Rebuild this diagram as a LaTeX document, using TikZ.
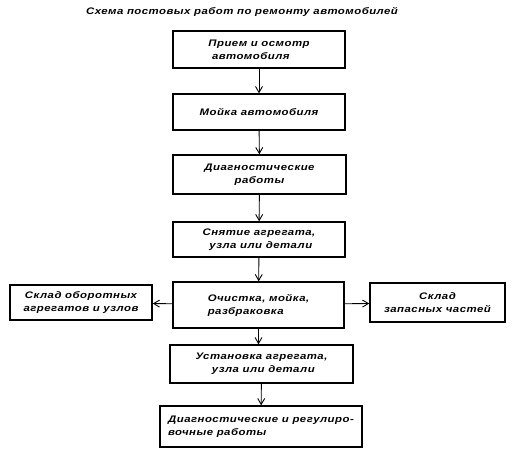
\documentclass[tikz,border=0pt]{standalone}
\usepackage{fontspec}
\setmainfont{Liberation Sans}[FakeStretch=1.2,LetterSpace=5]
\usepackage{tikz}
\usetikzlibrary{arrows.meta}

\begin{document}
\begin{tikzpicture}[x=1pt,y=-1pt,>={Straight Barb[length=6pt,width=7pt]},
  box/.style={draw,line width=1.4pt,inner sep=0pt,align=center,
    font=\bfseries\itshape\fontsize{9.5}{13}\selectfont},
  link/.style={->,line width=0.9pt}]
\useasboundingbox (0,0) rectangle (516,458);
\node[font=\bfseries\itshape\fontsize{9.5}{12}\selectfont] (title) at (242,12) {Схема постовых работ по ремонту автомобилей};
% main chain
\node[box,align=left,minimum width=172pt,minimum height=37pt] (priem) at (259,49.5) {Прием и осмотр\\ \ автомобиля};
\node[box,minimum width=172pt,minimum height=36pt] (mojka) at (259,112) {Мойка автомобиля};
\node[box,minimum width=173pt,minimum height=39pt] (diag) at (259.5,174.5) {Диагностические\\работы};
\node[box,minimum width=172pt,minimum height=35pt] (snyat) at (259,239.5) {Снятие агрегата,\\ \ узла или детали};
\node[box,align=left,minimum width=171pt,minimum height=46pt] (ochist) at (258.5,305) {Очистка, мойка,\\разбраковка};
\node[box,minimum width=183pt,minimum height=38pt] (ustan) at (261.5,364) {Установка агрегата,\\ \ узла или детали};
\node[box,align=left,minimum width=202pt,minimum height=41pt] (regul) at (261,426.5) {Диагностические и регулиро-\\вочные работы};
% side stores
\node[box,minimum width=142pt,minimum height=35pt] (oborot) at (81,302.5) {Склад оборотных\\агрегатов и узлов};
\node[box,minimum width=135pt,minimum height=39pt] (zapas) at (437.5,302.5) {Склад\\запасных частей};
\draw[link](priem)--(mojka);
\draw[link](mojka)--(diag);
\draw[link](diag)--(snyat);
\draw[link](snyat)--(ochist);
\draw[link](ochist.south)--(ochist.south|-ustan.north);
\draw[link](ustan)--(regul);
\draw[link](ochist)--(oborot);
\draw[link](ochist)--(zapas);
\end{tikzpicture}
\end{document}
